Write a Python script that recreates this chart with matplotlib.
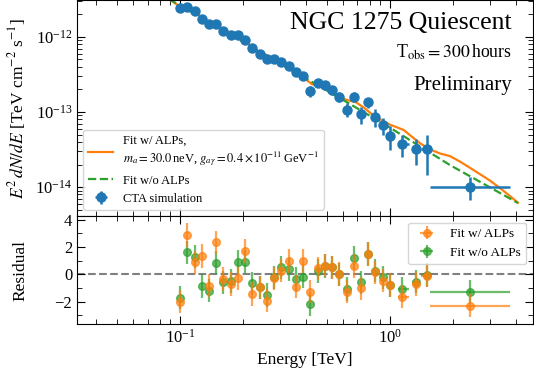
import matplotlib
matplotlib.use('Agg')
import matplotlib.pyplot as plt
import numpy as np

plt.rcParams['font.family'] = 'serif'
plt.rcParams['font.serif'] = ['Liberation Serif', 'DejaVu Serif']
plt.rcParams['mathtext.fontset'] = 'stix'
for ax_name in ('xtick', 'ytick'):
    plt.rcParams[ax_name + '.direction'] = 'in'
    plt.rcParams[ax_name + '.major.size'] = 6
    plt.rcParams[ax_name + '.minor.size'] = 3.5
    plt.rcParams[ax_name + '.labelsize'] = 12
plt.rcParams['xtick.top'] = True
plt.rcParams['ytick.right'] = True

# CTA simulated spectral points
energy = [0.1, 0.1083, 0.1172, 0.1269, 0.1374, 0.1487, 0.1610, 0.1743, 0.1887,
          0.2043, 0.2212, 0.2395, 0.2593, 0.2807, 0.3039, 0.3290, 0.3562, 0.3857,
          0.4175, 0.4520, 0.4894, 0.5298, 0.5736, 0.6210, 0.6723, 0.7279, 0.7880,
          0.8532, 0.9237, 1.0, 1.137, 1.326, 1.496, 2.40]
energy_err_lo = [0] * 30 + [0.045, 0.053, 0.09, 0.85]
energy_err_hi = [0] * 30 + [0.10, 0.063, 0.09, 1.33]
flux = [2.44e-12, 2.49e-12, 2.20e-12, 1.75e-12, 1.47e-12, 1.50e-12, 1.18e-12,
        1.07e-12, 1.05e-12, 9.18e-13, 7.10e-13, 5.98e-13, 5.03e-13, 5.03e-13,
        4.63e-13, 4.06e-13, 3.41e-13, 2.99e-13, 1.89e-13, 2.47e-13, 2.27e-13,
        1.95e-13, 1.59e-13, 1.08e-13, 1.59e-13, 9.27e-14, 1.34e-13, 8.61e-14,
        6.68e-14, 4.78e-14, 3.70e-14, 3.18e-14, 3.18e-14, 1.01e-14]
flux_err = [4.9e-14, 5.0e-14, 4.4e-14, 4.4e-14, 3.7e-14, 4.5e-14, 3.5e-14, 3.2e-14,
            3.7e-14, 3.2e-14, 2.8e-14, 2.7e-14, 2.5e-14, 2.5e-14, 2.5e-14, 2.4e-14,
            2.4e-14, 2.4e-14, 3.2e-14, 3.2e-14, 3.0e-14, 2.5e-14, 2.5e-14, 2.2e-14,
            2.5e-14, 2.4e-14, 2.0e-14, 2.2e-14, 1.7e-14, 1.7e-14, 1.2e-14, 1.2e-14,
            1.75e-14, 3.4e-15]

# model curves
alp_energy = [0.0803, 0.0877, 0.0957, 0.1045, 0.1141, 0.1245, 0.1345, 0.1452, 0.1567,
              0.1693, 0.1848, 0.2017, 0.2202, 0.2377, 0.2567, 0.2803, 0.3059, 0.3341,
              0.3646, 0.3937, 0.4251, 0.4541, 0.4903, 0.5294, 0.5779, 0.6310, 0.6888,
              0.7518, 0.8208, 0.8960, 1.0, 1.092, 1.166, 1.245, 1.389, 1.550, 1.730,
              1.931, 2.154, 2.404, 2.683, 2.993, 3.340, 3.728, 4.070]
alp_flux = [3.78e-12, 3.25e-12, 2.74e-12, 2.39e-12, 2.18e-12, 1.90e-12, 1.61e-12,
            1.36e-12, 1.28e-12, 1.165e-12, 9.85e-13, 8.58e-13, 7.48e-13, 6.32e-13,
            5.77e-13, 5.03e-13, 4.25e-13, 3.70e-13, 3.27e-13, 2.77e-13, 2.34e-13,
            2.23e-13, 2.135e-13, 1.83e-13, 1.57e-13, 1.434e-13, 1.349e-13, 1.141e-13,
            9.35e-14, 8.02e-14, 6.78e-14, 6.19e-14, 5.73e-14, 4.92e-14, 3.85e-14,
            3.18e-14, 2.81e-14, 2.59e-14, 2.19e-14, 1.81e-14, 1.49e-14, 1.224e-14,
            9.73e-15, 7.62e-15, 6.21e-15]
noalp_energy = [0.0803, 0.1, 0.316, 0.578, 1.0, 1.93, 4.07]
noalp_flux = [3.73e-12, 2.62e-12, 4.06e-13, 1.53e-13, 6.19e-14, 1.97e-14, 6.15e-15]

# residuals
res_alp = [-2.0, 2.87, 0.88, 1.34, -0.83, 2.33, -0.34, -0.71, -0.29, 1.7, -1.44,
           -0.95, -1.92, -0.29, 0.26, 0.97, -0.9, 0.97, -1.27, 0.44, 0.63, 0.51,
           0.02, -1.27, 0.61, -1.02, 1.48, 0.15, -0.47, -0.78, -1.63, -0.71, -0.1, -2.29]
res_noalp = [-1.7, 1.6, 1.29, -0.85, -1.2, 0.85, -0.58, -0.49, 0.92, 0.92, -0.66,
             -0.95, -1.51, -0.22, 0.51, 0.36, -0.34, -0.17, -2.19, 0.24, 0.6, 0.5,
             0.0, -1.07, 1.21, -0.58, 1.48, 0.26, -0.22, -0.78, -1.07, -0.54, -0.05, -1.27]
res_err = [0.85] * 34

fig = plt.figure(figsize=(5.34, 3.76), dpi=100)
ax1 = fig.add_axes([0.1442, 0.4255, 0.8539, 0.5732])
ax2 = fig.add_axes([0.1442, 0.1383, 0.8539, 0.2872], sharex=ax1)

l1, = ax1.plot(alp_energy, alp_flux, color='C1', lw=1.6)
l2, = ax1.plot(noalp_energy, noalp_flux, color='C2', lw=1.6, ls='--')
eb = ax1.errorbar(energy, flux, yerr=flux_err, xerr=[energy_err_lo, energy_err_hi],
                  fmt='o', color='C0', ms=6.5, lw=1.8, zorder=3)
ax1.set_xscale('log')
ax1.set_yscale('log')
ax1.set_xlim(0.0323, 4.8)
ax1.set_ylim(4.13e-15, 3.05e-12)
ax1.set_ylabel(r'$E^2\,dN/dE$ [TeV cm$^{-2}$ s$^{-1}$]', fontsize=12.5)
ax1.tick_params(labelbottom=False)
ax1.tick_params(which='both', top=True, right=True)

ax1.text(0.954, 0.870, 'NGC 1275 Quiescent', transform=ax1.transAxes,
         ha='right', va='baseline', fontsize=18.5)
ax1.text(0.954, 0.736, r'T$_{\rm obs}=300\,$hours', transform=ax1.transAxes,
         ha='right', va='baseline', fontsize=12.8)
ax1.text(0.954, 0.583, 'Preliminary', transform=ax1.transAxes,
         ha='right', va='baseline', fontsize=15)

ax1.legend([l1, l2, eb],
           ['Fit w/ ALPs,\n' + r'$m_a=30.0\,$neV, $g_{a\gamma}=0.4\times10^{-11}\,$GeV$^{-1}$',
            'Fit w/o ALPs', 'CTA simulation'],
           loc='lower left', fontsize=9)

e1 = ax2.errorbar(energy, res_alp, yerr=res_err, xerr=[energy_err_lo, energy_err_hi],
                  fmt='o', color='C1', ms=5.5, lw=1.6, alpha=0.7, zorder=3)
e2 = ax2.errorbar(energy, res_noalp, yerr=res_err, xerr=[energy_err_lo, energy_err_hi],
                  fmt='o', color='C2', ms=5.5, lw=1.6, alpha=0.7, zorder=2)
ax2.axhline(0, color='grey', ls='--', lw=1.5, zorder=1)
ax2.set_ylim(-3.63, 4.26)
ax2.set_yticks([-2, 0, 2, 4])
ax2.yaxis.set_minor_locator(matplotlib.ticker.MultipleLocator(1))
ax2.tick_params(which='both', top=True, right=True)
ax2.set_ylabel('Residual', fontsize=12.5)
ax2.set_xlabel('Energy [TeV]', fontsize=12.5)
ax2.legend([e1, e2], ['Fit w/ ALPs', 'Fit w/o ALPs'], loc='upper right', fontsize=9.5)

# both y labels on one vertical line, as in the reference
ax1.yaxis.set_label_coords(-0.107, 0.5)
ax2.yaxis.set_label_coords(-0.107, 0.5)

fig.savefig('out.png', dpi=100)
